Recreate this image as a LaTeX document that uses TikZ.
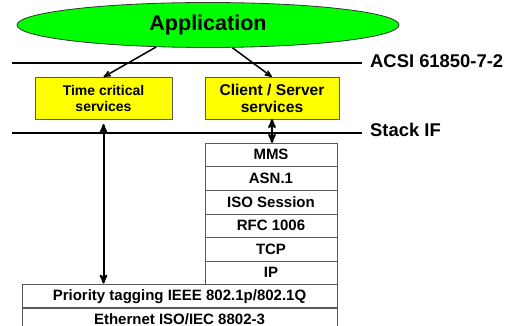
\documentclass[tikz,border=0pt]{standalone}
\usepackage{fontspec}
\setmainfont{Liberation Sans}
\usetikzlibrary{arrows, positioning, shapes.geometric}
\definecolor{applgreen}{RGB}{0,255,0}
\definecolor{svcyellow}{RGB}{255,255,0}
\definecolor{boxgray}{RGB}{90,90,90}
\tikzset{
>=stealth', % small filled arrow heads
appl/.style={ellipse, draw=black!80, fill=applgreen, thick, minimum width=382pt, minimum height=45pt, inner sep=0pt, font=\fontsize{21.5}{24}\selectfont\bfseries},
svc/.style={draw=boxgray, fill=svcyellow, anchor=north west, minimum height=42pt, align=center, outer sep=0pt},
layer/.style={draw=boxgray, minimum height=23.6pt, inner sep=0pt, outer sep=0pt, font=\fontsize{15}{17}\selectfont\bfseries},
level/.style={line width=2pt},
levellabel/.style={anchor=west, inner sep=0pt, font=\fontsize{18.4}{20}\selectfont\bfseries},
arr/.style={->, line width=1.5pt},
dblarr/.style={<->, line width=2pt}
}
\begin{document}
\begin{tikzpicture}[x=1pt, y=-1pt, node distance=0pt]
\useasboundingbox (0,0) rectangle (511,326);

% application on top
\node[appl] (app) at (208,25) {Application};

% interface levels
\coordinate (acsiL) at (12,63);
\coordinate (acsiR) at (362,63);
\coordinate (stackL) at (12,133);
\coordinate (stackR) at (362,133);
\draw[level] (acsiL) -- (acsiR);
\draw[level] (stackL) -- (stackR);
\node[levellabel] (acsi) at (370,61.5) {ACSI 61850-7-2};
\node[levellabel] (stackif) at (370,129.5) {Stack IF};

% services
\node[svc, minimum width=137pt, font=\fontsize{14}{16}\selectfont\bfseries] (tcs) at (35,77) {Time critical\\services};
\node[svc, minimum width=134pt, font=\fontsize{15.6}{17}\selectfont\bfseries] (cs) at (205,77) {Client / Server\\services};

% communication stack
\node[layer, minimum width=132pt, anchor=north west] (mms) at (205,143) {MMS};
\node[layer, minimum width=132pt, below=of mms] (asn) {ASN.1};
\node[layer, minimum width=132pt, below=of asn] (isos) {ISO Session};
\node[layer, minimum width=132pt, below=of isos] (rfc) {RFC 1006};
\node[layer, minimum width=132pt, below=of rfc] (tcp) {TCP};
\node[layer, minimum width=132pt, below=of tcp] (ip) {IP};
\node[layer, minimum width=315pt, anchor=north east] (prio) at (ip.south east) {Priority tagging IEEE 802.1p/802.1Q};
\node[layer, minimum width=315pt, below=of prio, yshift=1pt] (eth) {Ethernet ISO/IEC 8802-3};

% connections
\draw[arr] (app.203) -- (tcs.north);
\draw[arr] (app.317) -- (cs.north);
\draw[dblarr, shorten <=5pt, shorten >=1pt] (tcs.south) -- (tcs.south |- prio.north);
\draw[dblarr] (cs.south) -- (cs.south |- mms.north);
\end{tikzpicture}
\end{document}
